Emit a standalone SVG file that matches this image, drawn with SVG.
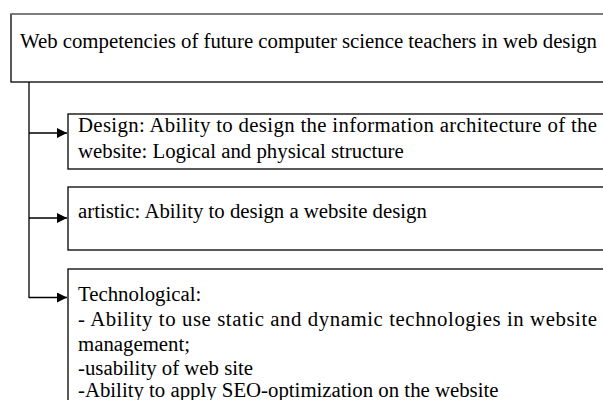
<svg xmlns="http://www.w3.org/2000/svg" width="603" height="400" viewBox="0 0 603 400">
<defs>
<marker id="arr" viewBox="0 0 10 10" refX="10" refY="5" markerWidth="10" markerHeight="10" markerUnits="userSpaceOnUse" orient="auto">
<path d="M0,0 L10,5 L0,10 Z" fill="#000"/>
</marker>
</defs>
<style>
.t{font-family:"Liberation Serif","Times New Roman",serif;font-size:20.8px;fill:#000}
.b{fill:#fff;stroke:#000;stroke-width:1.3}
.c{fill:none;stroke:#000;stroke-width:1.3}
</style>
<rect width="603" height="400" fill="#fff"/>
<g id="root">
<rect class="b" x="11" y="14" width="620" height="68"/>
<line x1="11" y1="14" x2="603" y2="14" stroke="#888" stroke-width="1.3"/>
<text class="t" x="20" y="48" textLength="577" lengthAdjust="spacing">Web competencies of future computer science teachers in web design</text>
</g>
<g id="design">
<rect class="b" x="68" y="114" width="560" height="55"/>
<text class="t" x="78" y="132" textLength="519" lengthAdjust="spacing">Design: Ability to design the information architecture of the</text>
<text class="t" x="78" y="158">website: Logical and physical structure</text>
</g>
<g id="artistic">
<rect class="b" x="68" y="187" width="560" height="63"/>
<text class="t" x="78" y="218">artistic: Ability to design a website design</text>
</g>
<g id="technological">
<rect class="b" x="68" y="269" width="560" height="160"/>
<text class="t" x="78" y="301">Technological:</text>
<text class="t" x="78" y="326" textLength="519" lengthAdjust="spacing">- Ability to use static and dynamic technologies in website</text>
<text class="t" x="78" y="351">management;</text>
<text class="t" x="78" y="375">-usability of web site</text>
<text class="t" x="78" y="397">-Ability to apply SEO-optimization on the website</text>
</g>
<g id="connectors">
<path class="c" d="M29,82 V298"/>
<path class="c" d="M29,133 H67" marker-end="url(#arr)"/>
<path class="c" d="M29,218 H67" marker-end="url(#arr)"/>
<path class="c" d="M29,297.5 H67" marker-end="url(#arr)"/>
</g>
</svg>
